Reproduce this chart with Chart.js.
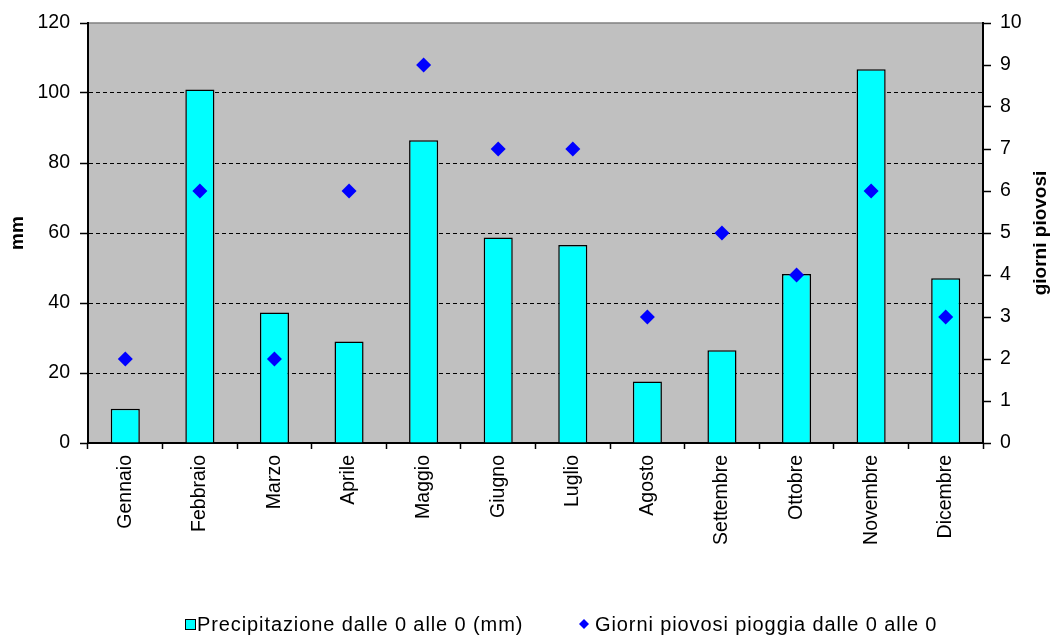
<!DOCTYPE html>
<html lang="it">
<head>
<meta charset="utf-8">
<title>Precipitazioni e giorni piovosi</title>
<script src="https://cdn.jsdelivr.net/npm/chart.js@4/dist/chart.umd.min.js"></script>
<style>
  html, body { margin: 0; padding: 0; background: #ffffff; }
  #wrap { width: 1052px; height: 635px; }
  canvas { display: block; }
</style>
</head>
<body>
<div id="wrap"><canvas id="chart" width="1052" height="635"></canvas></div>
<script>
// Monthly data
const months = ['Gennaio', 'Febbraio', 'Marzo', 'Aprile', 'Maggio', 'Giugno',
                'Luglio', 'Agosto', 'Settembre', 'Ottobre', 'Novembre', 'Dicembre'];
const precipitationMm = [9.8, 101, 37.3, 29, 86.5, 58.7, 56.6, 17.6, 26.5, 48.3, 106.8, 47.1];
const rainyDays = [2, 6, 2, 6, 9, 7, 7, 3, 5, 4, 6, 3];

const precipLabel = 'Precipitazione dalle 0 alle 0 (mm)';
const daysLabel = 'Giorni piovosi pioggia dalle 0 alle 0';
const leftTitle = 'mm';
const rightTitle = 'giorni piovosi';

const FONT = '"Liberation Sans", Arial, sans-serif';
const BAR_FILL = '#00FFFF';
const POINT_FILL = '#0000FF';
const PLOT_BG = '#C0C0C0';

// Grey plot background with a thin frame on top
const plotBackground = {
  id: 'plotBackground',
  beforeDraw(chart) {
    const { ctx, chartArea: a } = chart;
    ctx.save();
    ctx.fillStyle = PLOT_BG;
    ctx.fillRect(a.left, a.top, a.right - a.left, a.bottom - a.top);
    ctx.strokeStyle = '#808080';
    ctx.lineWidth = 1.5;
    ctx.beginPath();
    ctx.moveTo(a.left, a.top);
    ctx.lineTo(a.right, a.top);
    ctx.stroke();
    ctx.restore();
  }
};

// Right-hand axis title (reads bottom to top) and the legend row
const extras = {
  id: 'extras',
  afterDraw(chart) {
    const { ctx, chartArea: a } = chart;
    ctx.save();
    ctx.fillStyle = '#000';
    ctx.font = 'bold 19px ' + FONT;
    ctx.textAlign = 'center';
    ctx.textBaseline = 'middle';
    ctx.translate(1041, (a.top + a.bottom) / 2);
    ctx.rotate(-Math.PI / 2);
    ctx.fillText(rightTitle, 0, 0);
    ctx.restore();

    const ds = chart.data.datasets;
    const ly = 624;
    ctx.save();
    ctx.font = '20px ' + FONT;
    if ('letterSpacing' in ctx) ctx.letterSpacing = '0.9px';
    ctx.textBaseline = 'middle';
    ctx.textAlign = 'left';
    // bar series key
    ctx.fillStyle = BAR_FILL;
    ctx.fillRect(185, ly - 5, 10, 10);
    ctx.strokeStyle = '#000';
    ctx.lineWidth = 1;
    ctx.strokeRect(185.5, ly - 4.5, 10, 10);
    ctx.fillStyle = '#000';
    ctx.fillText(ds[1].label, 197, ly + 1);
    // point series key
    ctx.fillStyle = POINT_FILL;
    ctx.beginPath();
    ctx.moveTo(584, ly - 5);
    ctx.lineTo(589, ly);
    ctx.lineTo(584, ly + 5);
    ctx.lineTo(579, ly);
    ctx.closePath();
    ctx.fill();
    ctx.fillStyle = '#000';
    ctx.fillText(ds[0].label, 595, ly + 1);
    ctx.restore();
  }
};

new Chart(document.getElementById('chart'), {
  data: {
    labels: months,
    datasets: [
      {
        type: 'line',
        label: daysLabel,
        data: rainyDays,
        yAxisID: 'y1',
        showLine: false,
        pointStyle: 'rectRot',
        pointRadius: 7.5,
        pointHoverRadius: 7.5,
        pointBackgroundColor: POINT_FILL,
        pointBorderColor: POINT_FILL,
        pointBorderWidth: 0,
        order: 1
      },
      {
        type: 'bar',
        label: precipLabel,
        data: precipitationMm,
        yAxisID: 'y',
        backgroundColor: BAR_FILL,
        borderColor: '#000000',
        borderWidth: 1.5,
        categoryPercentage: 1,
        barPercentage: 0.39,
        order: 2
      }
    ]
  },
  options: {
    responsive: false,
    animation: false,
    devicePixelRatio: 1,
    layout: { padding: { top: 23, right: 0, bottom: 0, left: 0 } },
    plugins: {
      legend: { display: false },
      tooltip: { enabled: false }
    },
    scales: {
      x: {
        offset: true,
        grid: {
          offset: true,
          drawOnChartArea: false,
          tickLength: 6,
          tickColor: '#000',
          tickWidth: 1.5
        },
        border: { color: '#000', width: 2 },
        ticks: {
          autoSkip: false,
          maxRotation: 90,
          minRotation: 90,
          padding: 6,
          color: '#000',
          font: { family: FONT, size: 19.5 }
        },
        afterFit(scale) { scale.height = 192; }
      },
      y: {
        position: 'left',
        min: 0,
        max: 120,
        ticks: {
          stepSize: 20,
          padding: 10,
          color: '#000',
          font: { family: FONT, size: 19.5 }
        },
        grid: {
          color: (c) => (c.tick && (c.tick.value === 0 || c.tick.value === 120)) ? 'rgba(0,0,0,0)' : '#000',
          lineWidth: 1,
          tickLength: 8,
          tickColor: '#000',
          tickWidth: 1.5
        },
        border: { color: '#000', width: 2, dash: [4, 3] },
        title: {
          display: true,
          text: leftTitle,
          color: '#000',
          padding: { top: 6, bottom: 0 },
          font: { family: FONT, size: 19, weight: 'bold' }
        },
        afterFit(scale) { scale.width = 88; }
      },
      y1: {
        position: 'right',
        min: 0,
        max: 10,
        ticks: {
          stepSize: 1,
          padding: 9,
          color: '#000',
          font: { family: FONT, size: 19.5 }
        },
        grid: {
          drawOnChartArea: false,
          tickLength: 8,
          tickColor: '#000',
          tickWidth: 1.5
        },
        border: { color: '#000', width: 2 },
        afterFit(scale) { scale.width = 69; }
      }
    }
  },
  plugins: [plotBackground, extras]
});
</script>
</body>
</html>
